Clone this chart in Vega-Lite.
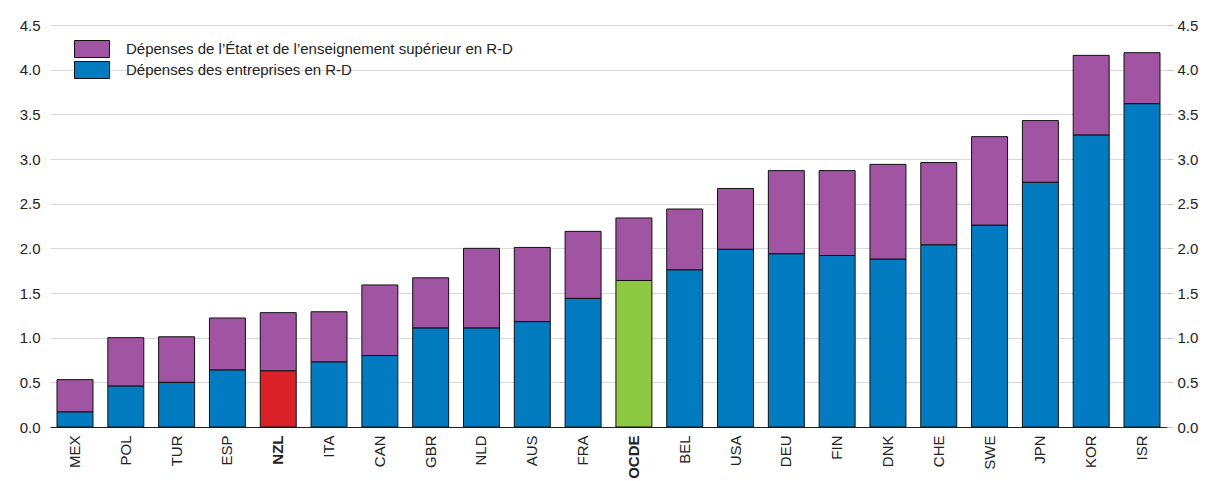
{
  "$schema": "https://vega.github.io/schema/vega-lite/v6.json",
  "width": 1117,
  "height": 402,
  "autosize": {"type": "none"},
  "padding": {"left": 50, "top": 25, "right": 39, "bottom": 54},
  "background": "white",
  "config": {
    "view": {"stroke": null},
    "font": "Liberation Sans",
    "axis": {"labelColor": "#222222", "labelFont": "Liberation Sans"},
    "legend": {"labelFont": "Liberation Sans"}
  },
  "data": {
    "values": [
      {"pays": "MEX", "serie": "Dépenses des entreprises en R-D", "valeur": 0.17},
      {"pays": "MEX", "serie": "Dépenses de l’État et de l’enseignement supérieur en R-D", "valeur": 0.36},
      {"pays": "POL", "serie": "Dépenses des entreprises en R-D", "valeur": 0.46},
      {"pays": "POL", "serie": "Dépenses de l’État et de l’enseignement supérieur en R-D", "valeur": 0.54},
      {"pays": "TUR", "serie": "Dépenses des entreprises en R-D", "valeur": 0.50},
      {"pays": "TUR", "serie": "Dépenses de l’État et de l’enseignement supérieur en R-D", "valeur": 0.51},
      {"pays": "ESP", "serie": "Dépenses des entreprises en R-D", "valeur": 0.64},
      {"pays": "ESP", "serie": "Dépenses de l’État et de l’enseignement supérieur en R-D", "valeur": 0.58},
      {"pays": "NZL", "serie": "Dépenses des entreprises en R-D", "valeur": 0.63},
      {"pays": "NZL", "serie": "Dépenses de l’État et de l’enseignement supérieur en R-D", "valeur": 0.65},
      {"pays": "ITA", "serie": "Dépenses des entreprises en R-D", "valeur": 0.73},
      {"pays": "ITA", "serie": "Dépenses de l’État et de l’enseignement supérieur en R-D", "valeur": 0.56},
      {"pays": "CAN", "serie": "Dépenses des entreprises en R-D", "valeur": 0.80},
      {"pays": "CAN", "serie": "Dépenses de l’État et de l’enseignement supérieur en R-D", "valeur": 0.79},
      {"pays": "GBR", "serie": "Dépenses des entreprises en R-D", "valeur": 1.11},
      {"pays": "GBR", "serie": "Dépenses de l’État et de l’enseignement supérieur en R-D", "valeur": 0.56},
      {"pays": "NLD", "serie": "Dépenses des entreprises en R-D", "valeur": 1.11},
      {"pays": "NLD", "serie": "Dépenses de l’État et de l’enseignement supérieur en R-D", "valeur": 0.89},
      {"pays": "AUS", "serie": "Dépenses des entreprises en R-D", "valeur": 1.18},
      {"pays": "AUS", "serie": "Dépenses de l’État et de l’enseignement supérieur en R-D", "valeur": 0.83},
      {"pays": "FRA", "serie": "Dépenses des entreprises en R-D", "valeur": 1.44},
      {"pays": "FRA", "serie": "Dépenses de l’État et de l’enseignement supérieur en R-D", "valeur": 0.75},
      {"pays": "OCDE", "serie": "Dépenses des entreprises en R-D", "valeur": 1.64},
      {"pays": "OCDE", "serie": "Dépenses de l’État et de l’enseignement supérieur en R-D", "valeur": 0.70},
      {"pays": "BEL", "serie": "Dépenses des entreprises en R-D", "valeur": 1.76},
      {"pays": "BEL", "serie": "Dépenses de l’État et de l’enseignement supérieur en R-D", "valeur": 0.68},
      {"pays": "USA", "serie": "Dépenses des entreprises en R-D", "valeur": 1.99},
      {"pays": "USA", "serie": "Dépenses de l’État et de l’enseignement supérieur en R-D", "valeur": 0.68},
      {"pays": "DEU", "serie": "Dépenses des entreprises en R-D", "valeur": 1.94},
      {"pays": "DEU", "serie": "Dépenses de l’État et de l’enseignement supérieur en R-D", "valeur": 0.93},
      {"pays": "FIN", "serie": "Dépenses des entreprises en R-D", "valeur": 1.92},
      {"pays": "FIN", "serie": "Dépenses de l’État et de l’enseignement supérieur en R-D", "valeur": 0.95},
      {"pays": "DNK", "serie": "Dépenses des entreprises en R-D", "valeur": 1.88},
      {"pays": "DNK", "serie": "Dépenses de l’État et de l’enseignement supérieur en R-D", "valeur": 1.06},
      {"pays": "CHE", "serie": "Dépenses des entreprises en R-D", "valeur": 2.04},
      {"pays": "CHE", "serie": "Dépenses de l’État et de l’enseignement supérieur en R-D", "valeur": 0.92},
      {"pays": "SWE", "serie": "Dépenses des entreprises en R-D", "valeur": 2.26},
      {"pays": "SWE", "serie": "Dépenses de l’État et de l’enseignement supérieur en R-D", "valeur": 0.99},
      {"pays": "JPN", "serie": "Dépenses des entreprises en R-D", "valeur": 2.74},
      {"pays": "JPN", "serie": "Dépenses de l’État et de l’enseignement supérieur en R-D", "valeur": 0.69},
      {"pays": "KOR", "serie": "Dépenses des entreprises en R-D", "valeur": 3.27},
      {"pays": "KOR", "serie": "Dépenses de l’État et de l’enseignement supérieur en R-D", "valeur": 0.89},
      {"pays": "ISR", "serie": "Dépenses des entreprises en R-D", "valeur": 3.62},
      {"pays": "ISR", "serie": "Dépenses de l’État et de l’enseignement supérieur en R-D", "valeur": 0.57}
    ]
  },
  "encoding": {
    "x": {
      "field": "pays",
      "type": "nominal",
      "sort": null,
      "scale": {"paddingInner": 0.292, "paddingOuter": 0.138},
      "axis": {
        "title": null,
        "labelAngle": -90,
        "ticks": false,
        "domainColor": "#222222",
        "domainWidth": 1,
        "labelFontSize": 15,
        "labelPadding": 8,
        "labelFontWeight": {"condition": {"test": "datum.value === 'NZL' || datum.value === 'OCDE'", "value": "bold"}, "value": "normal"}
      }
    },
    "order": {"field": "serie", "sort": "descending"}
  },
  "layer": [
    {
      "mark": {"type": "bar", "stroke": "#111111", "strokeWidth": 1},
      "encoding": {
        "y": {
          "field": "valeur",
          "type": "quantitative",
          "stack": "zero",
          "scale": {"domain": [0, 4.5], "nice": false},
          "axis": {
            "orient": "left",
            "title": null,
            "values": [0, 0.5, 1, 1.5, 2, 2.5, 3, 3.5, 4, 4.5],
            "format": ".1f",
            "grid": true,
            "gridColor": "#d9d9d9",
            "gridWidth": 1,
            "ticks": false,
            "domain": false,
            "labelFontSize": 15,
            "labelPadding": 10
          }
        },
        "color": {
          "condition": [
            {"test": "datum.pays === 'NZL' && datum.serie === 'Dépenses des entreprises en R-D'", "value": "#DA2128"},
            {"test": "datum.pays === 'OCDE' && datum.serie === 'Dépenses des entreprises en R-D'", "value": "#8CC841"}
          ],
          "field": "serie",
          "type": "nominal",
          "scale": {
            "domain": ["Dépenses de l’État et de l’enseignement supérieur en R-D", "Dépenses des entreprises en R-D"],
            "range": ["#A154A1", "#037BC1"]
          },
          "legend": {
            "title": null,
            "orient": "none",
            "legendX": 34.5,
            "legendY": 16.5,
            "padding": 0,
            "symbolType": "M-3.5,-1.7H3.5V1.7H-3.5Z",
            "symbolSize": 100,
            "symbolStrokeColor": "#111111",
            "symbolStrokeWidth": 1,
            "symbolOpacity": 1,
            "labelOffset": 26.5,
            "labelFontSize": 15,
            "labelColor": "#222222",
            "rowPadding": 0,
            "labelLimit": 700
          }
        }
      }
    },
    {
      "mark": {"type": "bar", "opacity": 0},
      "encoding": {
        "y": {
          "field": "valeur",
          "type": "quantitative",
          "stack": "zero",
          "axis": {
            "orient": "right",
            "title": null,
            "values": [0, 0.5, 1, 1.5, 2, 2.5, 3, 3.5, 4, 4.5],
            "format": ".1f",
            "grid": false,
            "ticks": true,
            "tickColor": "#c8c8c8",
            "tickSize": 6,
            "domain": false,
            "labelFontSize": 15,
            "labelPadding": 4
          }
        },
        "detail": {"field": "serie"}
      }
    }
  ],
  "resolve": {"axis": {"y": "independent"}}
}
